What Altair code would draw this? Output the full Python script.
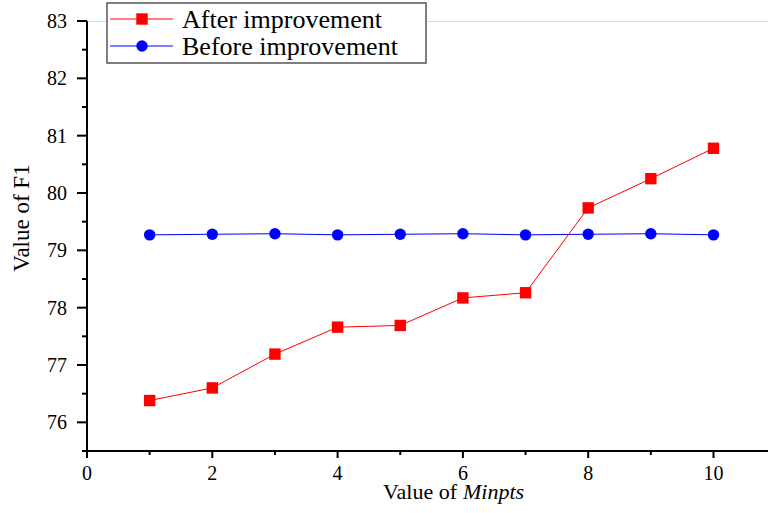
import altair as alt
import pandas as pd

minpts = [1, 2, 3, 4, 5, 6, 7, 8, 9, 10]
after = [76.38, 76.60, 77.19, 77.66, 77.69, 78.17, 78.26, 79.74, 80.25, 80.78]
before = [79.27, 79.28, 79.29, 79.27, 79.28, 79.29, 79.27, 79.28, 79.29, 79.27]
x_major = [0, 2, 4, 6, 8, 10]
x_minor = [1, 3, 5, 7, 9]
y_major = [76, 77, 78, 79, 80, 81, 82, 83]
y_minor = [75.5, 76.5, 77.5, 78.5, 79.5, 80.5, 81.5, 82.5]
labels = ["After improvement", "Before improvement"]

FONT = "Liberation Serif"
W, H = 681, 430
xs = alt.Scale(domain=[0, 10.87], nice=False, zero=False)
ys = alt.Scale(domain=[75.5, 83], nice=False, zero=False)

df_a = pd.DataFrame({"m": minpts, "v": after})
df_b = pd.DataFrame({"m": minpts, "v": before})

base_a = alt.Chart(df_a).encode(x=alt.X("m:Q", scale=xs, axis=None), y=alt.Y("v:Q", scale=ys, axis=None))
base_b = alt.Chart(df_b).encode(x=alt.X("m:Q", scale=xs, axis=None), y=alt.Y("v:Q", scale=ys, axis=None))

line_b = base_b.mark_line(color="#0000ff", strokeWidth=1)
pts_b = base_b.mark_point(shape="circle", filled=True, color="#0000ff", size=130, opacity=1)
line_a = base_a.mark_line(color="#ff0000", strokeWidth=1)
pts_a = base_a.mark_point(shape="square", filled=True, color="#ff0000", size=130, opacity=1)

# axes drawn from the tick arrays through the scales
dxmaj = alt.Chart(pd.DataFrame({"t": x_major}))
dxmin = alt.Chart(pd.DataFrame({"t": x_minor}))
dymaj = alt.Chart(pd.DataFrame({"t": y_major}))
dymin = alt.Chart(pd.DataFrame({"t": y_minor}))

xtick_maj = dxmaj.mark_rule(color="black", strokeWidth=2).encode(
    x=alt.X("t:Q", scale=xs, axis=None), y=alt.value(H), y2=alt.value(H + 7))
xtick_min = dxmin.mark_rule(color="black", strokeWidth=2).encode(
    x=alt.X("t:Q", scale=xs, axis=None), y=alt.value(H), y2=alt.value(H + 4))
xlab = dxmaj.mark_text(font=FONT, fontSize=20, align="center", baseline="alphabetic", color="black").encode(
    x=alt.X("t:Q", scale=xs, axis=None), y=alt.value(H + 29), text=alt.Text("t:Q", format="d"))
ytick_maj = dymaj.mark_rule(color="black", strokeWidth=2).encode(
    y=alt.Y("t:Q", scale=ys, axis=None), x=alt.value(-10), x2=alt.value(0))
ytick_min = dymin.mark_rule(color="black", strokeWidth=2).encode(
    y=alt.Y("t:Q", scale=ys, axis=None), x=alt.value(-5), x2=alt.value(0))
ylab = dymaj.mark_text(font=FONT, fontSize=20, align="right", baseline="alphabetic", dy=7, color="black").encode(
    y=alt.Y("t:Q", scale=ys, axis=None), x=alt.value(-20), text=alt.Text("t:Q", format="d"))

one = alt.Chart(pd.DataFrame({"a": [0]}))
xdomain = one.mark_rule(color="black", strokeWidth=2).encode(
    x=alt.value(-1), x2=alt.value(W), y=alt.value(H))
ydomain = one.mark_rule(color="black", strokeWidth=2).encode(
    x=alt.value(0), y=alt.value(0), y2=alt.value(H + 1))

legend_box = one.mark_rect(fill="white", stroke="#555555", strokeWidth=1.5).encode(
    x=alt.value(20), x2=alt.value(339), y=alt.value(-18), y2=alt.value(42))
leg_items = []
for i, (lab, col, shp) in enumerate(zip(labels, ["#ff0000", "#0000ff"], ["square", "circle"])):
    yy = -2 + 27 * i
    leg_items.append(one.mark_rule(color=col, strokeWidth=1).encode(
        x=alt.value(23), x2=alt.value(86), y=alt.value(yy)))
    leg_items.append(one.mark_point(shape=shp, filled=True, color=col, size=130, opacity=1).encode(
        x=alt.value(55), y=alt.value(yy)))
    leg_items.append(one.mark_text(text=lab, font=FONT, fontSize=26, align="left", baseline="middle",
                                   color="black").encode(x=alt.value(95), y=alt.value(yy + 1)))

xt1 = one.mark_text(text="Value of", font=FONT, fontSize=22, align="right", baseline="alphabetic",
                    color="black").encode(x=alt.value(370), y=alt.value(478))
xt2 = one.mark_text(text="Minpts", font=FONT, fontSize=22, fontStyle="italic", align="left",
                    baseline="alphabetic", color="black").encode(x=alt.value(376), y=alt.value(478))
yt = one.mark_text(text="Value of F1", font=FONT, fontSize=23, angle=270, align="center",
                   baseline="middle", color="black").encode(x=alt.value(-65), y=alt.value(197))

chart = alt.layer(line_b, pts_b, line_a, pts_a, xtick_maj, xtick_min, xlab, ytick_maj, ytick_min, ylab,
                  xdomain, ydomain, legend_box, *leg_items, xt1, xt2, yt).properties(
    width=W, height=H, padding={"left": 87, "top": 21, "right": 0, "bottom": 62},
    autosize=alt.AutoSizeParams(type="none"),
).configure_view(stroke=None).configure(background="white")

chart.save("out.html", embed_options={"renderer": "svg", "actions": False})
